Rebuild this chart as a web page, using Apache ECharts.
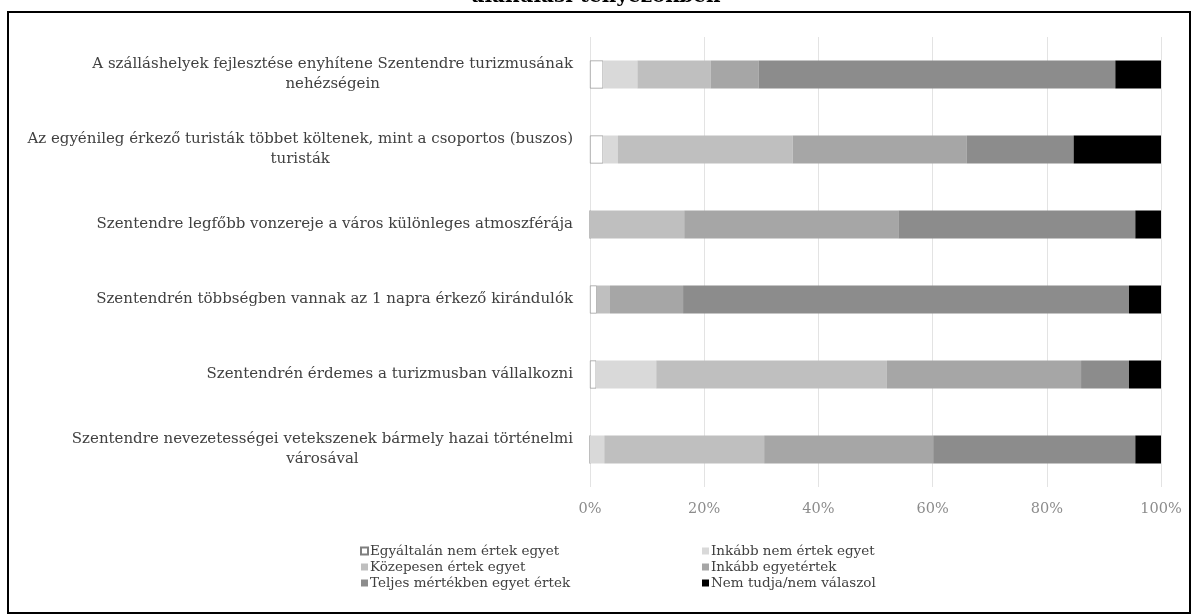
<!DOCTYPE html>
<html>
<head>
<meta charset="utf-8">
<script src="https://cdn.jsdelivr.net/npm/echarts@6/dist/echarts.min.js"></script>
<style>
html,body{margin:0;padding:0;background:#fff;}
#c{width:1192px;height:615px;}
</style>
</head>
<body>
<div id="c"></div>
<script>
const categories = [
  "A szálláshelyek fejlesztése enyhítene Szentendre turizmusának\nnehézségein",
  "Az egyénileg érkező turisták többet költenek, mint a csoportos (buszos)\nturisták",
  "Szentendre legfőbb vonzereje a város különleges atmoszférája",
  "Szentendrén többségben vannak az 1 napra érkező kirándulók",
  "Szentendrén érdemes a turizmusban vállalkozni",
  "Szentendre nevezetességei vetekszenek bármely hazai történelmi\nvárosával"
];
const seriesNames = [
  "Egyáltalán nem értek egyet",
  "Inkább nem értek egyet",
  "Közepesen értek egyet",
  "Inkább egyetértek",
  "Teljes mértékben egyet értek",
  "Nem tudja/nem válaszol"
];
const egyaltalan = [2.3, 2.3, 0, 1.2, 1.1, 0];
const inkabbNem = [6.0, 2.6, 0, 0, 10.5, 2.5];
const kozepesen = [12.8, 30.6, 16.5, 2.3, 40.4, 28.0];
const inkabbEgyet = [8.4, 30.5, 37.5, 12.8, 34.0, 29.6];
const teljes = [62.5, 18.7, 41.5, 78.1, 8.4, 35.4];
const nemTudja = [8.0, 15.3, 4.5, 5.6, 5.6, 4.5];
const tickLabels = ["0%", "20%", "40%", "60%", "80%", "100%"];
const titleText = "alakulási tényezőkben";

const values = [egyaltalan, inkabbNem, kozepesen, inkabbEgyet, teljes, nemTudja];
const colors = ["#ffffff", "#d9d9d9", "#bfbfbf", "#a6a6a6", "#8c8c8c", "#000000"];
const serif = "'DejaVu Serif', 'Liberation Serif', serif";

const chart = echarts.init(document.getElementById('c'));
const series = seriesNames.map((n, i) => ({
  name: n,
  type: 'bar',
  stack: 'total',
  barWidth: 28,
  data: values[i],
  itemStyle: {
    color: colors[i],
    borderColor: i === 0 ? '#7f7f7f' : colors[i],
    borderWidth: i === 0 ? 0.6 : 0
  },
  emphasis: { disabled: true }
}));

const legendCommon = {
  orient: 'vertical',
  icon: 'rect',
  itemWidth: 7,
  itemHeight: 7,
  itemGap: 0,
  textStyle: { fontFamily: serif, fontSize: 13.5, color: '#404040', lineHeight: 16, padding: [0, 0, 0, -3] },
  selectedMode: false
};

chart.setOption({
  animation: false,
  backgroundColor: '#fff',
  grid: { left: 590, right: 31, top: 37, bottom: 128, containLabel: false },
  xAxis: {
    type: 'value',
    min: 0, max: 100, interval: 20,
    axisLine: { show: false },
    axisTick: { show: false },
    splitLine: { show: true, lineStyle: { color: '#e3e3e3', width: 1 } },
    axisLabel: {
      margin: 15,
      fontFamily: serif, fontSize: 14.5, color: '#8c8c8c',
      formatter: (v) => tickLabels[Math.round(v / 20)]
    }
  },
  yAxis: {
    type: 'category',
    inverse: true,
    data: categories,
    axisLine: { show: false },
    axisTick: { show: false },
    axisLabel: {
      margin: 17,
      align: 'right',
      lineHeight: 20,
      formatter: (v) => v.split('\n').map(s => '{a|' + s + '}').join('\n'),
      rich: { a: { align: 'center', fontFamily: serif, fontSize: 15, color: '#404040', lineHeight: 20 } }
    }
  },
  legend: [
    Object.assign({ left: 355, top: 538, data: [seriesNames[0], seriesNames[2], seriesNames[4]] }, legendCommon),
    Object.assign({ left: 697, top: 538, data: [seriesNames[1], seriesNames[3], seriesNames[5]] }, legendCommon)
  ],
  series: series,
  graphic: [
    { type: 'rect', silent: true, shape: { x: 8, y: 12, width: 1182, height: 601 },
      style: { fill: 'none', stroke: '#000', lineWidth: 2 } },
    { type: 'text', silent: true, left: 'center', top: -13,
      style: { text: titleText, font: "bold 20px 'DejaVu Serif', serif", fill: '#000' } }
  ]
});
</script>
</body>
</html>
